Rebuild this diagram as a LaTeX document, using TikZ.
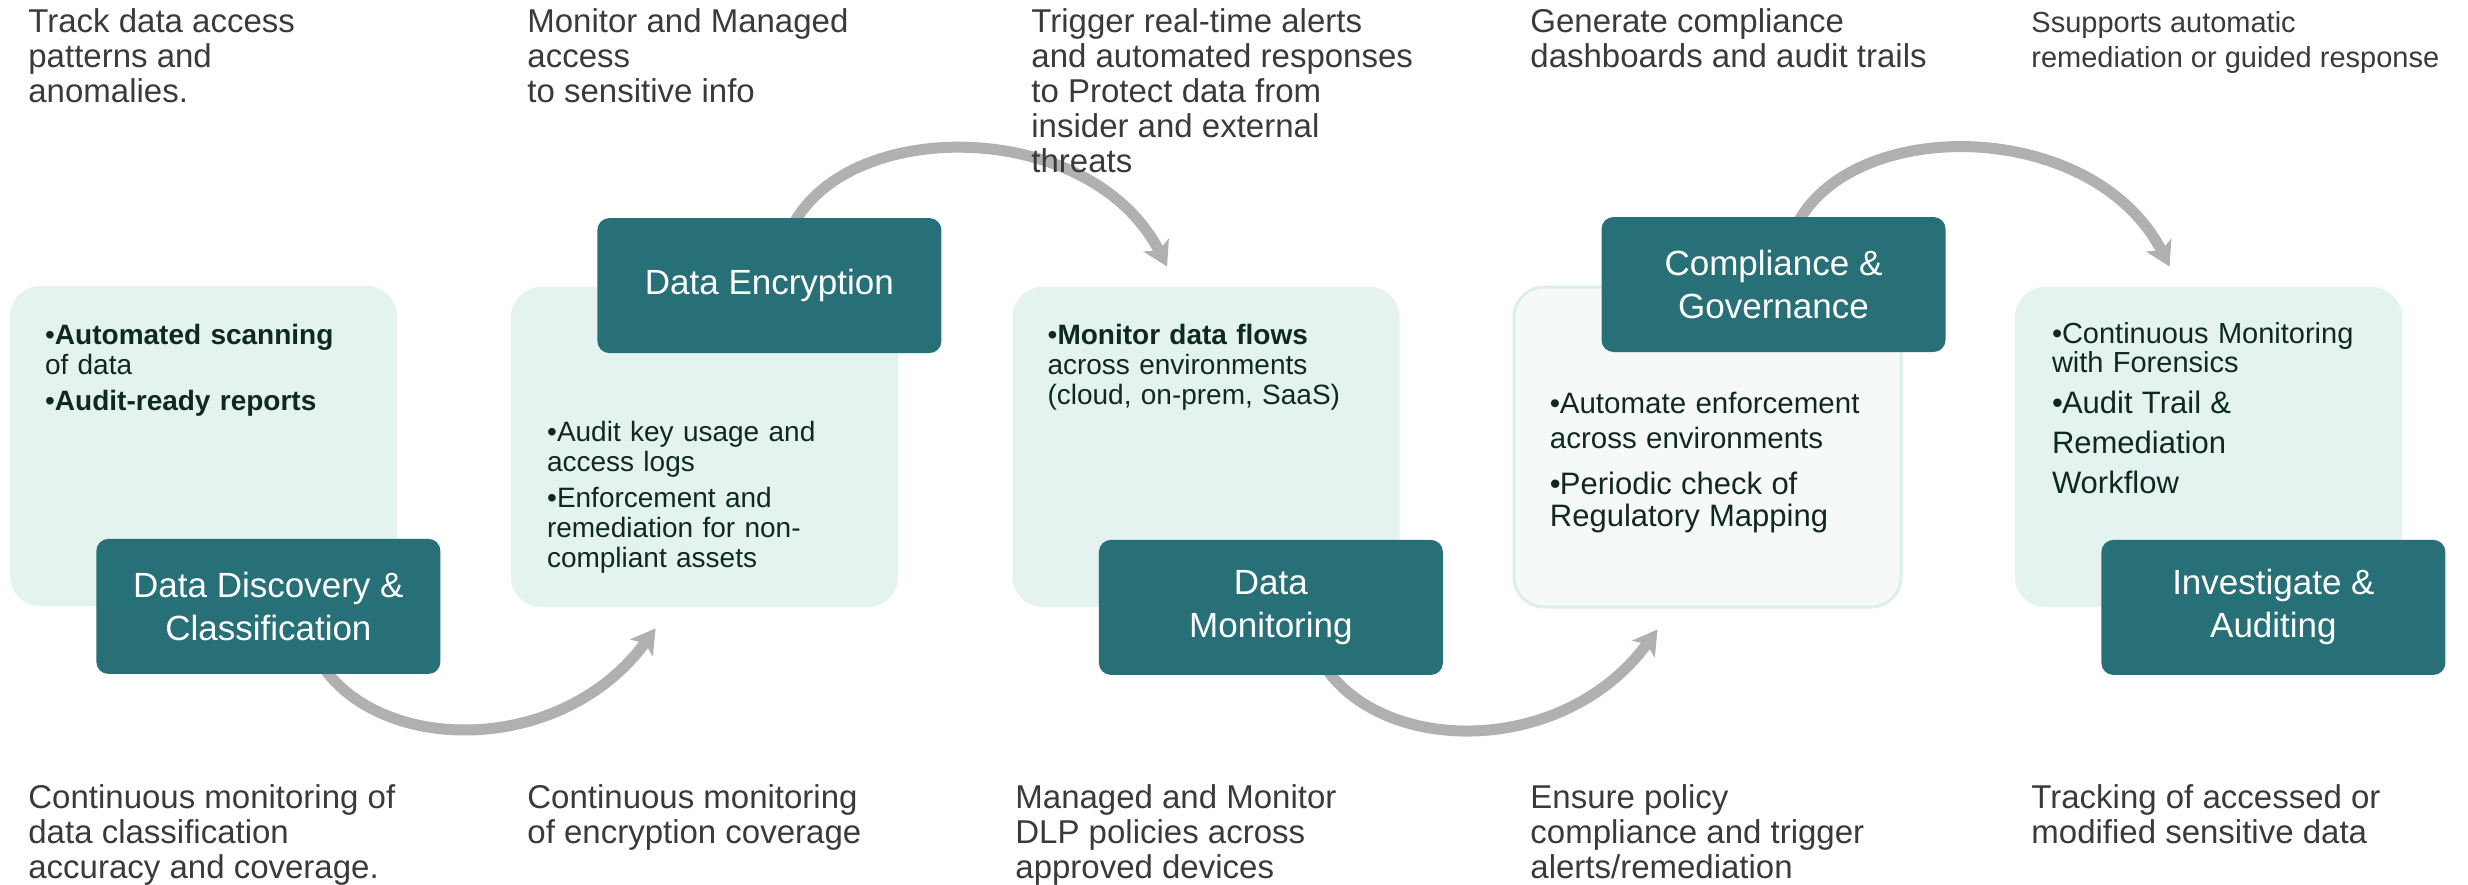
\documentclass[tikz,border=0pt]{standalone}
\usepackage{fontspec}
\setmainfont{Liberation Sans}
\usepackage{xcolor}
\definecolor{stageteal}{HTML}{287077}
\definecolor{panelmint}{HTML}{E4F3EF}
\definecolor{panelpale}{HTML}{F5FAF9}
\definecolor{paneledge}{HTML}{DDEFEA}
\definecolor{noteink}{HTML}{10291E}
\definecolor{captionink}{HTML}{3A3A3A}
\definecolor{flowgray}{HTML}{B1AFB0}
\usetikzlibrary{arrows.meta,positioning,calc,backgrounds}

% one bullet point with a hanging indent
\newcommand\bitem[1]{\par\hangindent=5pt\hangafter=1\noindent\makebox[5pt][l]{\textbullet}#1\par}

\begin{document}
\begin{tikzpicture}[x=0.5pt,y=-0.5pt,
  panel/.style={rounded corners=15pt,fill=panelmint,minimum width=193.5pt,
                minimum height=160pt,inner sep=0},
  stage/.style={rounded corners=6pt,fill=stageteal,text=white,align=center,
                minimum width=172pt,minimum height=67.5pt,inner sep=0,
                font=\fontsize{17.5}{21.5}\selectfont},
  note/.style={anchor=north west,inner sep=0,text width=180pt,align=left,
               text=noteink,font=\fontsize{14}{15}\selectfont},
  caption/.style={anchor=north west,inner sep=0,align=left,text=captionink,
                  font=\fontsize{16.5}{17.5}\selectfont},
  flow/.style={draw=flowgray,line width=5.5pt,
               -{Stealth[length=12pt,width=14pt,inset=3pt]}}]
  \useasboundingbox (0,0) rectangle (2468,884);

  % light panels with their notes
  \node[panel] (p1) at (203.5,446) {};
  \node[panel] (p2) at (704.5,447) {};
  \node[panel] (p3) at (1206,447) {};
  \node[panel,fill=panelpale,draw=paneledge,line width=1.5pt] (p4) at (1707.5,447) {};
  \node[panel] (p5) at (2208.5,447) {};

  \node[note] (n1) at ($(p1.north west)+(35,28)$)
    {\bitem{\textbf{Automated scanning}\\of data}\vspace{3pt}%
     \bitem{\textbf{Audit-ready reports}}};
  \node[note] (n2) at ($(p2.north west)+(36,124)$)
    {\bitem{Audit key usage and\\access logs}\vspace{3pt}%
     \bitem{Enforcement and\\remediation for non-\\compliant assets}};
  \node[note] (n3) at ($(p3.north west)+(35,27)$)
    {\bitem{\textbf{Monitor data flows}\\across environments\\(cloud, on-prem, SaaS)}};
  \node[note] (n4) at ($(p4.north west)+(37,93)$)
    {{\fontsize{14.75}{17.5}\selectfont\bitem{Automate enforcement\\across environments}}%
     \vspace{7pt}%
     {\fontsize{15.5}{16}\selectfont\bitem{Periodic check of\\Regulatory Mapping}}};
  \node[note] (n5) at ($(p5.north west)+(37,27)$)
    {{\fontsize{14.5}{14.5}\selectfont\bitem{Continuous Monitoring\\with Forensics}}%
     \vspace{0.5pt}%
     {\fontsize{15.5}{20}\selectfont\bitem{Audit Trail \&\\Remediation\\Workflow}}};

  % stage boxes
  \node[stage] (disc) at ($(p1.south east)+(-129,0)$) {Data Discovery \&\\Classification};
  \node[stage] (enc)  at ($(p2.north east)+(-129,-1)$) {Data Encryption};
  \node[stage] (mon)  at ($(p3.south east)+(-129,0)$) {Data\\Monitoring};
  \node[stage] (gov)  at ($(p4.north east)+(-129,-1)$) {Compliance \&\\Governance};
  \node[stage] (inv)  at ($(p5.south east)+(-129,0)$) {Investigate \&\\Auditing};

  % arrow tips
  \coordinate (tip1) at ($(p2.south west)+(145,21)$);
  \coordinate (tip2) at ($(p3.north west)+(155,-20)$);
  \coordinate (tip3) at ($(p4.south west)+(145,21)$);
  \coordinate (tip4) at ($(p5.north west)+(155,-20)$);

  \begin{scope}[on background layer]
    \draw[flow] ($(disc.south)+(50,-15)$) .. controls +(55,95) and +(-95,130) .. (tip1);
    \draw[flow] ($(enc.north)+(20,15)$) .. controls +(50,-117) and +(-77,-151) .. (tip2);
    \draw[flow] ($(mon.south)+(50,-15)$) .. controls +(55,95) and +(-95,130) .. (tip3);
    \draw[flow] ($(gov.north)+(20,15)$) .. controls +(50,-117) and +(-77,-151) .. (tip4);
  \end{scope}

  % captions above
  \node[caption] (t1) at (28,8) {Track data access\\patterns and\\anomalies.};
  \node[caption] (t2) at (527,8) {Monitor and Managed\\access\\to sensitive info};
  \node[caption] (t3) at (1031,8) {Trigger real-time alerts\\and automated responses\\to Protect data from\\insider and external\\threats};
  \node[caption] (t4) at (1530,8) {Generate compliance\\dashboards and audit trails};
  \node[caption,font=\fontsize{14.5}{17.5}\selectfont] (t5) at (2031,11) {Ssupports automatic\\remediation or guided response};

  % captions below
  \node[caption] (b1) at (28,784) {Continuous monitoring of\\data classification\\accuracy and coverage.};
  \node[caption] (b2) at (527,784) {Continuous monitoring\\of encryption coverage};
  \node[caption] (b3) at (1015,784) {Managed and Monitor\\DLP policies across\\approved devices};
  \node[caption] (b4) at (1530,784) {Ensure policy\\compliance and trigger\\alerts/remediation};
  \node[caption] (b5) at (2031,784) {Tracking of accessed or\\modified sensitive data};
\end{tikzpicture}
\end{document}
